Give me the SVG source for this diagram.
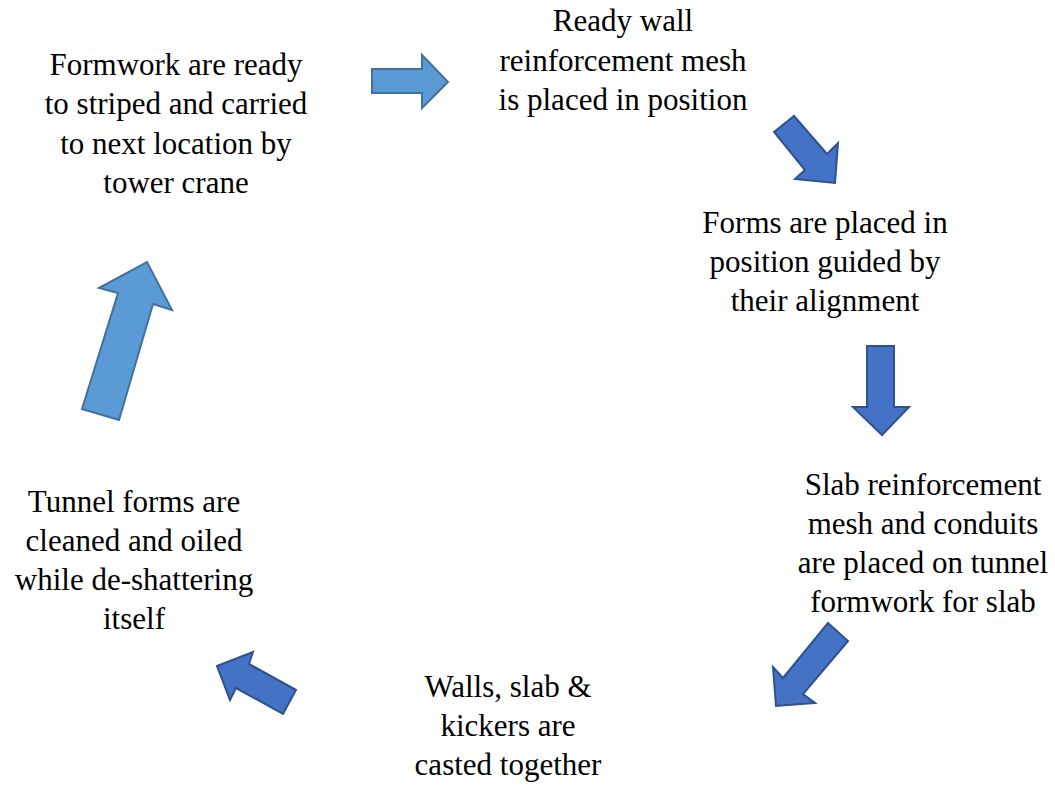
<svg xmlns="http://www.w3.org/2000/svg" width="1055" height="785" viewBox="0 0 1055 785">
<style>
.t{font-size:31px;fill:#000;text-anchor:middle}
.light{fill:#5B9BD5;stroke:#41719C;stroke-width:2;stroke-linejoin:miter}
.dark{fill:#4472C4;stroke:#2F528F;stroke-width:2;stroke-linejoin:miter}
</style>
<rect width="1055" height="785" fill="#fff"/>
<g id="connectors">
<polygon class="light" points="372,69 422,69 422,55 448,82 422,108 422,93 372,93"/>
<polygon class="dark" points="774,132 794,116 827,154 838,143 835,183 795,179 805,170"/>
<polygon class="dark" points="867,346 894,346 894,407 909,407 882,435 853,407 867,407"/>
<polygon class="dark" points="828,623 848,641 803,694 815,703 776,706 773,667 783,678"/>
<polygon class="dark" points="217,666 253,652 249,664 296,690 283,714 236,688 230,700"/>
<polygon class="light" points="82,409 119,420 153,304 172,310 147,262 99,288 118,293"/>
</g>
<g class="t" font-family="Liberation Serif, DejaVu Serif, serif">
<g id="node1"><text x="176" y="75">Formwork are ready</text><text x="176" y="114">to striped and carried</text><text x="176" y="154">to next location by</text><text x="176" y="193">tower crane</text></g>
<g id="node2"><text x="623" y="31">Ready wall</text><text x="623" y="71">reinforcement mesh</text><text x="623" y="110">is placed in position</text></g>
<g id="node3"><text x="825" y="233">Forms are placed in</text><text x="825" y="272">position guided by</text><text x="825" y="311">their alignment</text></g>
<g id="node4"><text x="923" y="495">Slab reinforcement</text><text x="923" y="534">mesh and conduits</text><text x="923" y="573">are placed on tunnel</text><text x="923" y="612">formwork for slab</text></g>
<g id="node5"><text x="508" y="697">Walls, slab &amp;</text><text x="508" y="736">kickers are</text><text x="508" y="775">casted together</text></g>
<g id="node6"><text x="134" y="512">Tunnel forms are</text><text x="134" y="551">cleaned and oiled</text><text x="134" y="590">while de-shattering</text><text x="134" y="629">itself</text></g>
</g>
</svg>
